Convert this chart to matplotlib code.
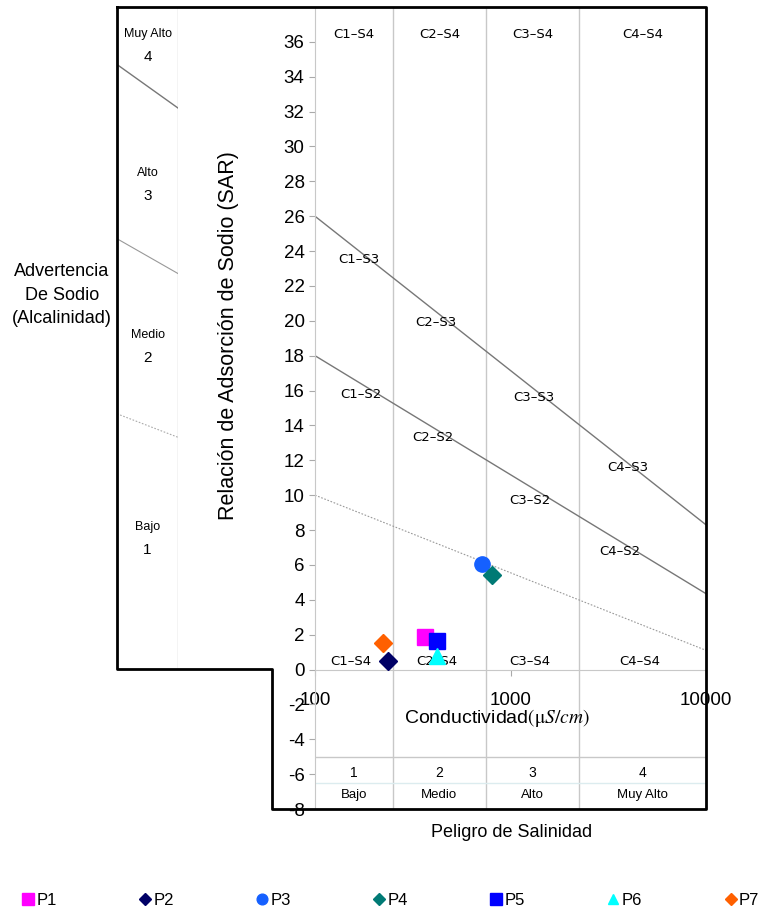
import numpy as np
import matplotlib
matplotlib.use('Agg')
import matplotlib.pyplot as plt
from matplotlib.lines import Line2D

plt.rcParams['font.family'] = ['Liberation Sans', 'DejaVu Sans']
plt.rcParams['mathtext.fontset'] = 'stix'
plt.rcParams['axes.unicode_minus'] = False

# muestras
puntos = ['P1', 'P2', 'P3', 'P4', 'P5', 'P6', 'P7']
ce = [365, 236, 715, 804, 421, 420, 223]
sar = [1.85, 0.5, 6.05, 5.45, 1.65, 0.75, 1.5]
marcas = ['s', 'D', 'o', 'D', 's', '^', 'D']
colores = ['#ff00ff', '#000066', '#1560ff', '#007a75', '#0000ff', '#00ffff', '#ff6000']
tamanos = [12, 9, 11, 9, 12, 11, 9]

# limites de clase (Riverside)
limites_ce = [250, 750, 2250]
linea_s3s4 = [26.0, 8.3]
linea_s2s3 = [18.0, 4.35]
linea_s1s2 = [10.0, 1.1]
ce_ext = [100, 10000]

# panel lateral de sodio (valores de SAR a izquierda y derecha)
sodio_l1 = [34.7, 32.2]
sodio_l2 = [24.7, 22.7]
sodio_l3 = [14.65, 13.3]

etq_arriba = ['C1–S4', 'C2–S4', 'C3–S4', 'C4–S4']
etq_abajo = ['C1–S4', 'C2–S4', 'C3–S4', 'C4–S4']
ce_centros = [158, 433, 1299, 4743]
etq_s3 = [('C1–S3', 131, 23.5), ('C2–S3', 325, 19.9), ('C3–S3', 1030, 15.6), ('C4–S3', 3118, 11.6)]
etq_s2 = [('C1–S2', 134, 15.8), ('C2–S2', 314, 13.3), ('C3–S2', 990, 9.7), ('C4–S2', 2860, 6.75)]

salinidad_num = ['1', '2', '3', '4']
salinidad_txt = ['Bajo', 'Medio', 'Alto', 'Muy Alto']
sodio_num = ['4', '3', '2', '1']
sodio_txt = ['Muy Alto', 'Alto', 'Medio', 'Bajo']
sodio_y = [35.8, 27.8, 18.5, 7.5]

W, H = 764, 923
fig = plt.figure(figsize=(W / 100, H / 100), dpi=100)
ax = fig.add_axes([315 / W, 1 - 809 / H, 391 / W, 802 / H])
axl = fig.add_axes([117 / W, 1 - 669 / H, 61 / W, 662 / H])

gris = '#c8c8c8'
ax.set_xscale('log')
ax.set_xlim(100, 10000)
ax.set_ylim(-8, 38)
for s in ['top', 'right']:
    ax.spines[s].set_visible(False)
ax.spines['bottom'].set_position(('data', 0))
ax.spines['bottom'].set_color(gris)
ax.spines['left'].set_color(gris)
ax.set_yticks(np.arange(-8, 37, 2))
ax.set_xticks([100, 1000, 10000])
ax.set_xticklabels(['100', '1000', '10000'])
ax.xaxis.set_minor_locator(matplotlib.ticker.NullLocator())
ax.tick_params(axis='y', labelsize=13.5, color='#aaaaaa', length=4)
ax.tick_params(axis='x', labelsize=13.5, color='#aaaaaa', length=4, pad=12)

for c in limites_ce:
    ax.plot([c, c], [-8, 38], color=gris, lw=1, zorder=1)
ax.plot(ce_ext, [-5, -5], color=gris, lw=1, zorder=1)
ax.plot(ce_ext, [-6.5, -6.5], color='#dcecef', lw=1, zorder=1)

ax.plot(ce_ext, linea_s3s4, color='#777777', lw=1)
ax.plot(ce_ext, linea_s2s3, color='#777777', lw=1)
ax.plot(ce_ext, linea_s1s2, color='#999999', lw=0.8, ls=(0, (1.5, 1.5)))

for t, c in zip(etq_arriba, ce_centros):
    ax.text(c, 36.4, t, ha='center', va='center', fontsize=9.5, family='DejaVu Sans')
for t, c in zip(etq_abajo, ce_centros):
    ax.text(c * 0.97, 0.45, t, ha='center', va='center', fontsize=9.5, family='DejaVu Sans')
for t, c, y in etq_s3 + etq_s2:
    ax.text(c, y, t, ha='left', va='center', fontsize=9.5, family='DejaVu Sans')

for i, c in enumerate(ce_centros):
    ax.text(c, -5.95, salinidad_num[i], ha='center', va='center', fontsize=10)
    ax.text(c, -7.2, salinidad_txt[i], ha='center', va='center', fontsize=9.5)

for p, x, y, m, col, ms in zip(puntos, ce, sar, marcas, colores, tamanos):
    ax.plot(x, y, marker=m, color=col, ms=ms, ls='none', label=p, zorder=5, clip_on=False)

ax.text(853, -2.8, r'Conductividad$(\mathrm{\mu}S/cm)$', ha='center', va='center', fontsize=14)
ax.text(1018, -9.35, 'Peligro de Salinidad', ha='center', va='center', fontsize=13, clip_on=False)
ax.set_ylabel('Relación de Adsorción de Sodio (SAR)', fontsize=15.5)
ax.yaxis.set_label_coords(-0.195, 0.59)

# panel de sodio
axl.set_xlim(0, 1)
axl.set_ylim(0, 38)
axl.axis('off')
axl.plot([1, 1], [0, 38], color=gris, lw=1)
axl.plot([0, 1], sodio_l1, color='#777777', lw=1)
axl.plot([0, 1], sodio_l2, color='#999999', lw=0.8)
axl.plot([0, 1], sodio_l3, color='#aaaaaa', lw=0.8, ls=(0, (1.5, 1.5)))
for n, t, y in zip(sodio_num, sodio_txt, sodio_y):
    axl.text(0.5, y + 0.65, t, ha='center', va='center', fontsize=9)
    axl.text(0.5, y - 0.65, n, ha='center', va='center', fontsize=11)

fig.text(62 / W, 1 - 295 / H, 'Advertencia\nDe Sodio\n(Alcalinidad)', ha='center', va='center',
         fontsize=13, linespacing=1.5)

# contorno grueso
xs = np.array([117, 706, 706, 272, 272, 117, 117]) / W
ys = 1 - np.array([7, 7, 809, 809, 669, 669, 7]) / H
fig.add_artist(Line2D(xs, ys, color='black', lw=2, transform=fig.transFigure))

handles, labels = ax.get_legend_handles_labels()
fig.legend(handles, labels, loc='lower center', bbox_to_anchor=(0.512, 0.0), ncol=7, frameon=False,
           fontsize=12, markerscale=0.7, handlelength=0.6, handletextpad=0.2, columnspacing=5.0)

fig.savefig('out.png', dpi=100)
